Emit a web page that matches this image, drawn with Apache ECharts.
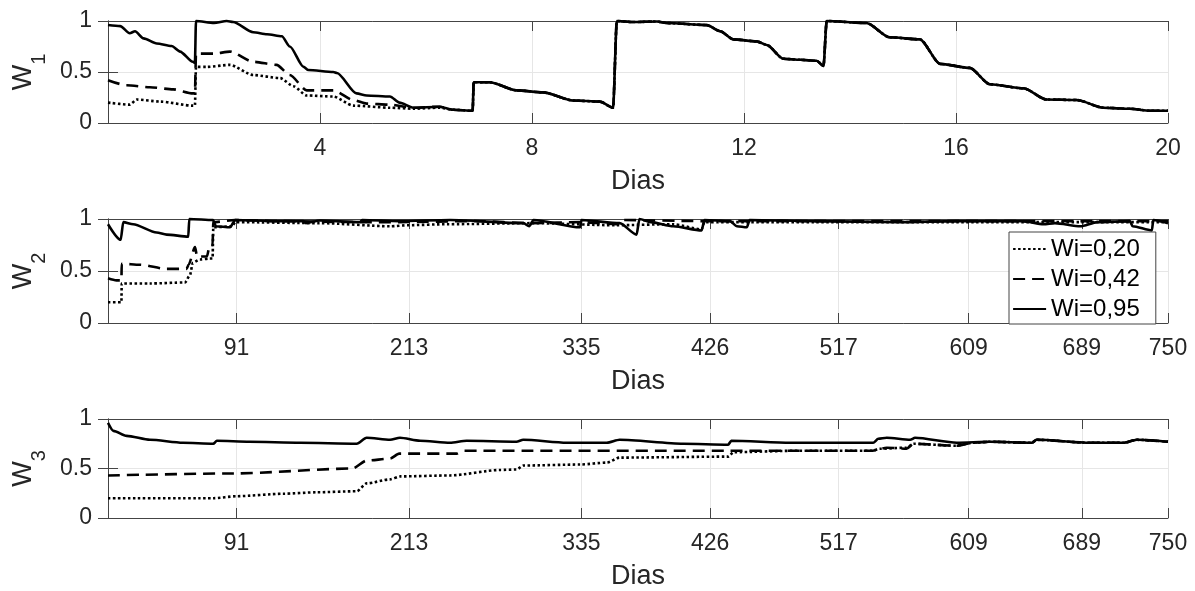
<!DOCTYPE html>
<html>
<head>
<meta charset="utf-8">
<script src="https://cdn.jsdelivr.net/npm/echarts@6/dist/echarts.min.js"></script>
<style>
  html, body { margin: 0; padding: 0; background: #fff; }
  #main { width: 1195px; height: 591px; }
</style>
</head>
<body>
<div id="main"></div>
<script>
// legenda e rótulos
var seriesNames = ['Wi=0,20', 'Wi=0,42', 'Wi=0,95'];
var yTitles = ['1', '2', '3'];
var longTicks = [91, 213, 335, 426, 517, 609, 689, 750];

// W1 (0..20 dias)
var w1Dotted = [[0,0.20],[0.41,0.18],[0.54,0.23],[0.98,0.21],[1.6,0.17],[1.64,0.17],[1.66,0.55],[1.86,0.55],[2.3,0.57],[2.74,0.47],[3.25,0.44],[3.5,0.36],[3.75,0.27],[4.25,0.26],[4.63,0.17],[5.32,0.15],[5.76,0.14],
  [6.26,0.15],[6.51,0.13],[6.88,0.12],[6.9,0.40],[7.2,0.40],[7.71,0.32],[8.21,0.30],[8.78,0.22],[9.28,0.21],[9.53,0.15],[9.6,1.0],[9.91,0.99],[10.36,0.995],[10.54,0.98],[11.3,0.96],[11.55,0.90],[11.8,0.82],[12.24,0.80],[12.43,0.765],[12.74,0.63],[13.06,0.62],[13.37,0.61],[13.5,0.56],[13.56,1.0],[14.31,0.98],[14.75,0.84],[15.32,0.82],[15.7,0.58],[16.26,0.54],[16.64,0.38],[17.27,0.34],[17.71,0.23],[18.28,0.225],[18.78,0.15],[19.28,0.14],[19.66,0.12],[20,0.12]];
var w1Dashed = [[0,0.42],[0.35,0.37],[0.79,0.35],[1.23,0.33],[1.6,0.29],[1.64,0.29],[1.66,0.68],[2.0,0.68],[2.3,0.70],[2.74,0.60],[3.18,0.57],[3.43,0.47],[3.75,0.32],[4.25,0.32],[4.63,0.225],[4.88,0.19],[5.32,0.18],[5.76,0.15],
  [6.26,0.16],[6.51,0.13],[6.88,0.12],[6.9,0.40],[7.2,0.40],[7.71,0.32],[8.21,0.30],[8.78,0.22],[9.28,0.21],[9.53,0.15],[9.6,1.0],[9.91,0.99],[10.36,0.995],[10.54,0.98],[11.3,0.96],[11.55,0.90],[11.8,0.82],[12.24,0.80],[12.43,0.765],[12.74,0.63],[13.06,0.62],[13.37,0.61],[13.5,0.56],[13.56,1.0],[14.31,0.98],[14.75,0.84],[15.32,0.82],[15.7,0.58],[16.26,0.54],[16.64,0.38],[17.27,0.34],[17.71,0.23],[18.28,0.225],[18.78,0.15],[19.28,0.14],[19.66,0.12],[20,0.12]];
var w1Solid = [[0,0.96],[0.23,0.95],[0.41,0.88],[0.51,0.90],[0.67,0.83],[0.92,0.78],[1.2,0.755],[1.36,0.70],[1.6,0.60],[1.64,0.59],[1.66,1.0],[2.0,0.98],[2.24,1.0],[2.36,0.99],[2.74,0.89],[3.0,0.87],[3.28,0.85],[3.43,0.75],[3.69,0.55],[3.78,0.52],[4.25,0.50],[4.32,0.49],[4.69,0.29],[4.88,0.27],[5.32,0.26],[5.5,0.20],[5.76,0.15],
  [6.26,0.16],[6.51,0.13],[6.88,0.12],[6.9,0.40],[7.2,0.40],[7.71,0.32],[8.21,0.30],[8.78,0.22],[9.28,0.21],[9.53,0.15],[9.6,1.0],[9.91,0.99],[10.36,0.995],[10.54,0.98],[11.3,0.96],[11.55,0.90],[11.8,0.82],[12.24,0.80],[12.43,0.765],[12.74,0.63],[13.06,0.62],[13.37,0.61],[13.5,0.56],[13.56,1.0],[14.31,0.98],[14.75,0.84],[15.32,0.82],[15.7,0.58],[16.26,0.54],[16.64,0.38],[17.27,0.34],[17.71,0.23],[18.28,0.225],[18.78,0.15],[19.28,0.14],[19.66,0.12],[20,0.12]];

// W2 (0..750 dias)
var w2Dotted = [[0,0.20],[9.5,0.20],[9.7,0.38],[29.7,0.38],[54.5,0.39],[58,0.46],[60,0.58],[65,0.61],[72,0.62],[74,0.62],[74.5,0.92],[88,0.93],[90,0.97],[150,0.96],[200,0.93],[212,0.94],[240,0.95],[300,0.96],[360,0.94],[400,0.95],[420,0.90],[422,0.97],[500,0.97],[600,0.97],[700,0.97],[750,0.97]];
var w2Dashed = [[0,0.43],[6,0.41],[9.5,0.41],[9.7,0.57],[22.6,0.56],[41.5,0.52],[55.6,0.52],[57,0.56],[61.6,0.73],[63,0.64],[70,0.64],[72,0.75],[74,0.75],[74.5,0.97],[90,0.99],[120,0.98],[180,0.97],[206,0.97],[260,0.98],[300,0.96],[335,0.97],[360,0.95],[364,0.99],[420,0.98],[500,0.98],[600,0.98],[700,0.98],[750,0.98]];
var w2Solid = [[0,0.95],[9,0.80],[10.8,0.97],[17.8,0.95],[34.4,0.87],[41.5,0.85],[56.8,0.83],[57.5,1.0],[74.3,0.99],[76.4,0.93],[86.3,0.92],[90,0.99],[120,0.98],[138,0.98],[140,0.96],[150,0.985],[178,0.97],[180,0.99],[206,0.98],[242,0.99],[294,0.96],[298,0.93],[301,0.99],[334,0.92],[335,0.99],[362,0.96],[374,0.85],[376,1.0],[384,0.97],[400,0.93],[420,0.89],[422,0.99],[440,0.98],[445,0.93],[452,0.92],[454,0.99],[500,0.98],[560,0.97],[600,0.98],[647,0.98],[662,0.95],[670,0.96],[688,0.93],[700,0.97],[723,0.98],[725,0.93],[738.6,0.89],[739.6,0.99],[750,0.96]];

// W3 (0..750 dias)
var w3Dotted = [[0,0.20],[74.6,0.20],[91,0.22],[124,0.245],[147.7,0.26],[176,0.27],[183,0.35],[199.6,0.39],[206.6,0.42],[242,0.43],[277.4,0.485],[289,0.49],[293.9,0.53],[334,0.54],[353,0.56],[362,0.61],[439,0.62],[442.5,0.665],[489.7,0.68],[541,0.68],[546,0.70],[565,0.71],[570,0.75],[600,0.73],[612,0.76],[624,0.77],[653.7,0.76],[657,0.79],[695,0.76],[718.6,0.76],[728,0.79],[750,0.77]];
var w3Dashed = [[0,0.43],[88.5,0.45],[173,0.50],[183,0.58],[199.6,0.60],[206,0.65],[246.8,0.65],[251.5,0.68],[440,0.68],[489.7,0.68],[541,0.68],[551,0.71],[565,0.70],[570,0.75],[600.6,0.73],[612,0.76],[624,0.77],[653.7,0.76],[657,0.79],[695,0.76],[718.6,0.76],[728,0.79],[750,0.77]];
var w3Solid = [[0,0.96],[3.8,0.88],[13.2,0.83],[29.7,0.79],[53,0.76],[74.5,0.75],[77,0.78],[100,0.77],[136,0.76],[176,0.75],[183,0.81],[199.6,0.79],[206.6,0.81],[220.8,0.78],[242,0.76],[253.8,0.78],[289,0.77],[293.8,0.79],[324.6,0.76],[353,0.76],[362,0.79],[407,0.75],[438.8,0.74],[441,0.78],[482.7,0.76],[541.4,0.76],[545,0.80],[551,0.81],[567.6,0.79],[571,0.81],[600.6,0.76],[624,0.77],[653.7,0.76],[657,0.79],[695,0.76],[718.6,0.76],[728,0.79],[750,0.77]];

var panels = [
  [w1Dotted, w1Dashed, w1Solid],
  [w2Dotted, w2Dashed, w2Solid],
  [w3Dotted, w3Dashed, w3Solid]
];

var font = '"Liberation Sans", Arial, sans-serif';
var ink = '#262626';
var gridColor = '#e6e6e6';
var lineTypes = [[2.5, 2.5], [12, 7], 'solid'];

var chart = echarts.init(document.getElementById('main'));

var grids = [
  { left: 108, width: 1060, top: 21, height: 102 },
  { left: 108, width: 1060, top: 219, height: 104 },
  { left: 108, width: 1060, top: 419, height: 102 }
];

var xAxes = [];
var yAxes = [];
var series = [];

for (var p = 0; p < 3; p++) {
  var first = p === 0;
  var range = first ? { min: 0, max: 20, interval: 4 } : { min: 0, max: 750 };
  var xBottom = {
    gridIndex: p, type: 'value', position: 'bottom',
    axisLine: { show: true, onZero: false, lineStyle: { color: '#444' } },
    axisTick: { show: true, inside: true, length: 10, lineStyle: { color: '#444' } },
    axisLabel: { fontSize: 23, color: ink, margin: 14, fontFamily: font, showMinLabel: !first },
    splitLine: { show: true, lineStyle: { color: gridColor } },
    name: 'Dias', nameLocation: 'middle', nameGap: 45,
    nameTextStyle: { fontSize: 27, color: ink, fontFamily: font }
  };
  var xTop = {
    gridIndex: p, type: 'value', position: 'top',
    axisLine: { show: true, onZero: false, lineStyle: { color: '#444' } },
    axisTick: { show: true, inside: true, length: 10, lineStyle: { color: '#444' } },
    axisLabel: { show: false },
    splitLine: { show: false }
  };
  Object.assign(xBottom, range);
  Object.assign(xTop, range);
  if (!first) {
    xBottom.axisTick.customValues = longTicks;
    xBottom.axisLabel.customValues = longTicks;
    xTop.axisTick.customValues = longTicks;
  }
  xAxes.push(xBottom, xTop);

  yAxes.push({
    gridIndex: p, type: 'value', position: 'left', min: 0, max: 1, interval: 0.5,
    axisLine: { show: true, lineStyle: { color: '#444' } },
    axisTick: { show: true, inside: true, length: 10, lineStyle: { color: '#444' } },
    axisLabel: { fontSize: 23, color: ink, margin: 16, fontFamily: font },
    splitLine: { show: true, lineStyle: { color: gridColor } },
    name: '{w|W}{s|' + yTitles[p] + '}',
    nameLocation: 'middle', nameRotate: 90, nameGap: 58,
    nameTextStyle: {
      color: ink, fontFamily: font,
      rich: {
        w: { fontSize: 27, fontFamily: font, color: ink, verticalAlign: 'top' },
        s: { fontSize: 20, fontFamily: font, color: ink, padding: [19, 0, 0, 0] }
      }
    }
  }, {
    gridIndex: p, type: 'value', position: 'right', min: 0, max: 1, interval: 0.5,
    axisLine: { show: true, lineStyle: { color: '#444' } },
    axisTick: { show: true, inside: true, length: 10, lineStyle: { color: '#444' } },
    axisLabel: { show: false },
    splitLine: { show: false }
  });

  for (var k = 0; k < 3; k++) {
    series.push({
      name: seriesNames[k],
      type: 'line',
      xAxisIndex: 2 * p,
      yAxisIndex: 2 * p,
      data: panels[p][k],
      symbol: 'none',
      showSymbol: false,
      smooth: 0.25,
      smoothMonotone: 'x',
      clip: false,
      animation: false,
      lineStyle: { color: '#000', width: 2.6, type: lineTypes[k] },
      itemStyle: { color: '#000' }
    });
  }
}

chart.setOption({
  backgroundColor: '#fff',
  animation: false,
  grid: grids,
  xAxis: xAxes,
  yAxis: yAxes,
  legend: {
    data: seriesNames,
    orient: 'vertical',
    left: 1009, top: 232,
    backgroundColor: '#fff',
    borderColor: '#444', borderWidth: 1, borderRadius: 0,
    padding: [5, 16, 3, 3],
    itemGap: 6, itemWidth: 33, itemHeight: 14,
    itemStyle: { opacity: 0 },
    lineStyle: { width: 2.2 },
    textStyle: { fontSize: 24, color: '#000', fontFamily: font },
    z: 10
  },
  series: series
});
</script>
</body>
</html>
